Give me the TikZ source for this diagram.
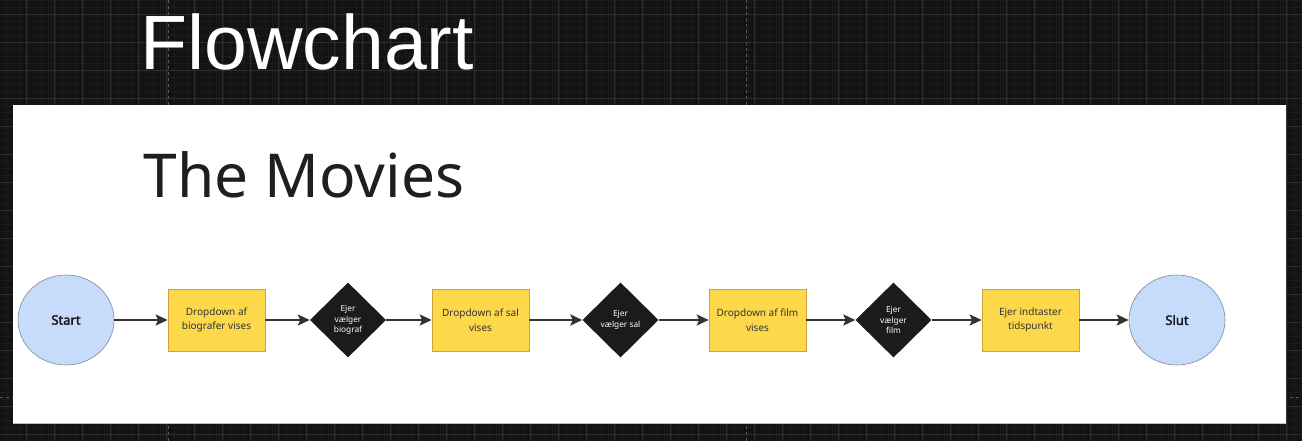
\documentclass[tikz,border=0pt]{standalone}
\usepackage{fontspec}
\setmainfont{Noto Sans}
\newfontfamily\titlefont{Liberation Sans}
\newfontfamily\endfont{Noto Sans}[FakeBold=2.2]
\usepackage{tikz}
\usetikzlibrary{shapes.geometric,arrows.meta}
\definecolor{boardbg}{HTML}{131313}
\definecolor{gridminor}{HTML}{1B1B1B}
\definecolor{gridmajor}{HTML}{2E2E2E}
\definecolor{guide}{HTML}{5A5A5A}
\definecolor{stickyfill}{HTML}{FDD84A}
\definecolor{stickyline}{HTML}{C8A63A}
\definecolor{endfill}{HTML}{C7DCFB}
\definecolor{endline}{HTML}{7E8794}
\definecolor{choicefill}{HTML}{1B1B1B}
\definecolor{flowline}{HTML}{333333}
\tikzset{
  startslut/.style={ellipse,draw=endline,fill=endfill,line width=0.6pt,
    minimum width=96pt,minimum height=90pt,inner sep=0pt,
    font=\endfont\fontsize{13}{15}\selectfont,text=black!90},
  dropbox/.style={rectangle,draw=stickyline,fill=stickyfill,line width=0.6pt,
    minimum width=97pt,minimum height=62pt,inner sep=2pt,align=center,
    font=\fontsize{10}{14.5}\selectfont,text=black!80},
  choice/.style={diamond,fill=choicefill,minimum width=76pt,minimum height=75pt,
    inner sep=0pt,align=center,font=\fontsize{8.3}{10.3}\selectfont,text=white},
  flow/.style={draw=flowline,line width=2.2pt,-{Stealth[length=12pt,width=11pt,inset=2.5pt]}}
}
\begin{document}
\begin{tikzpicture}[x=1pt,y=-1pt]
       % board with grid
       \fill[boardbg] (0,0) rectangle (1302,441);
       \useasboundingbox (0,0) rectangle (1302,441);
       \foreach \gx in {0,7,...,1302} \draw[gridminor,line width=0.4pt] (\gx-1.3,0) -- (\gx-1.3,441);
       \foreach \gy in {0,7,...,441} \draw[gridminor,line width=0.4pt] (0,\gy) -- (1302,\gy);
       \foreach \gx in {0,28,...,1302} \draw[gridmajor,line width=0.8pt] (\gx-1.3,0) -- (\gx-1.3,441);
       \foreach \gy in {14,42,...,441} \draw[gridmajor,line width=0.8pt] (0,\gy) -- (1302,\gy);
       \draw[guide,dashed,line width=0.6pt] (168,0) -- (168,441);
       \draw[guide,dashed,line width=0.6pt] (746,0) -- (746,441);
       \draw[guide,dashed,line width=0.6pt] (0,397) -- (1302,397);
       \node[font=\fontsize{77}{80}\selectfont\titlefont,text=white,anchor=base west,inner sep=0pt] (title) at (140,70) {Flowchart};
       % frame
       \fill[white] (12.5,105) rectangle (1286,423);
       \draw[black!25,line width=0.8pt] (12.5,423) -- (1286,423);
       \node[font=\fontsize{60.5}{64}\selectfont,text=black!88,anchor=base west,inner sep=0pt] (frame) at (143.5,197.7) {The Movies};
       % steps
       \node[startslut] (start) at (66,320) {Start};
       \node[dropbox] (drop-bio) at (216.5,320) {Dropdown af\\biografer vises};
       \node[choice] (pick-bio) at (348,320) {Ejer\\vælger\\biograf};
       \node[dropbox] (drop-sal) at (480.5,320) {Dropdown af sal\\vises};
       \node[choice] (pick-sal) at (620.5,320) {Ejer\\vælger sal};
       \node[dropbox] (drop-film) at (757.5,320) {Dropdown af film\\vises};
       \node[choice] (pick-film) at (893.5,320) {Ejer\\vælger\\film};
       \node[dropbox] (tid) at (1030.5,320) {Ejer indtaster\\tidspunkt};
       \node[startslut] (slut) at (1177,320) {Slut};
       \foreach \a/\b in {start/drop-bio,drop-bio/pick-bio,pick-bio/drop-sal,drop-sal/pick-sal,
                          pick-sal/drop-film,drop-film/pick-film,pick-film/tid,tid/slut}
         \draw[flow] (\a) -- (\b);
\end{tikzpicture}
\end{document}
